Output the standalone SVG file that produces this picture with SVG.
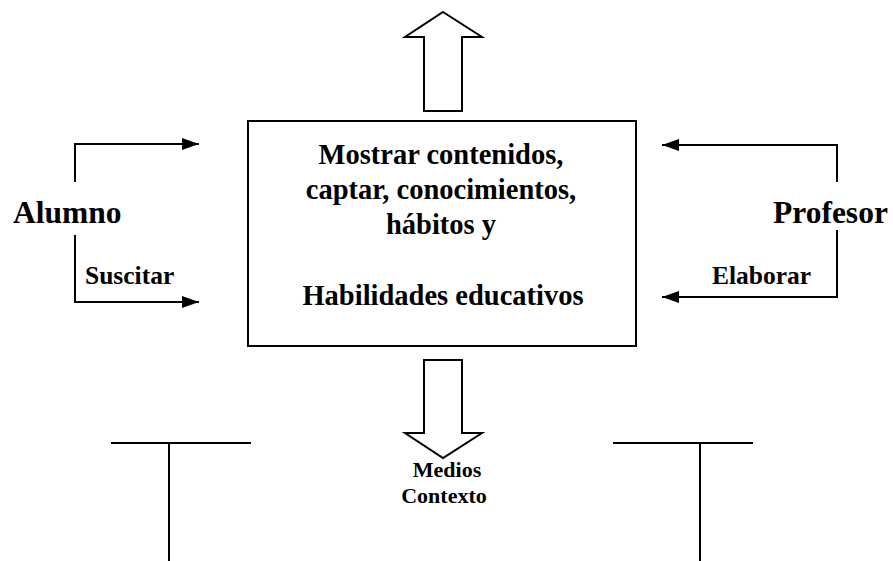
<svg xmlns="http://www.w3.org/2000/svg" width="893" height="561" viewBox="0 0 893 561">
<style>
.ln{stroke:#000;stroke-width:2;fill:none}
.blk{stroke:#000;stroke-width:2;fill:#fff}
text{font-family:"Liberation Serif","Times New Roman",serif;font-weight:bold;fill:#000}
.main{font-size:28.5px;text-anchor:middle}
.big{font-size:31.5px}
.sm{font-size:25.5px}
.md{font-size:22px;text-anchor:middle}
</style>
<defs>
<marker id="ah" markerWidth="17" markerHeight="12" refX="17" refY="6" orient="auto" markerUnits="userSpaceOnUse">
<path d="M0,0 L17,6 L0,12 Z" fill="#000"/>
</marker>
</defs>
<rect width="893" height="561" fill="#fff"/>
<g id="centro">
<rect class="blk" x="248" y="121" width="388" height="225"/>
<text class="main" x="441" y="164">Mostrar contenidos,</text>
<text class="main" x="441" y="199">captar, conocimientos,</text>
<text class="main" x="441" y="234">hábitos y</text>
<text class="main" x="443" y="305">Habilidades educativos</text>
</g>
<g id="flecha-arriba">
<path class="blk" d="M443,12 L482,37 L462,37 L462,111 L424,111 L424,37 L405,37 Z"/>
</g>
<g id="flecha-abajo">
<path class="blk" d="M424,360 L462,360 L462,433 L482,433 L443,458 L405,433 L424,433 Z"/>
</g>
<g id="alumno">
<text class="big" x="13" y="223">Alumno</text>
<text class="sm" x="85" y="284">Suscitar</text>
</g>
<g id="profesor">
<text class="big" x="773" y="223">Profesor</text>
<text class="sm" x="712" y="284">Elaborar</text>
</g>
<g id="medios">
<text class="md" x="447" y="477">Medios</text>
<text class="md" x="444" y="503">Contexto</text>
</g>
<g id="t-izquierda">
<line class="ln" x1="111" y1="443" x2="251" y2="443"/>
<line class="ln" x1="169" y1="443" x2="169" y2="561"/>
</g>
<g id="t-derecha">
<line class="ln" x1="613" y1="443" x2="753" y2="443"/>
<line class="ln" x1="700" y1="443" x2="700" y2="561"/>
</g>
<g id="conectores">
<path class="ln" d="M75,182 L75,144 L199,144" marker-end="url(#ah)"/>
<path class="ln" d="M75,235 L75,302 L199,302" marker-end="url(#ah)"/>
<path class="ln" d="M837,182 L837,145 L662,145" marker-end="url(#ah)"/>
<path class="ln" d="M837,230 L837,297 L662,297" marker-end="url(#ah)"/>
</g>
</svg>
